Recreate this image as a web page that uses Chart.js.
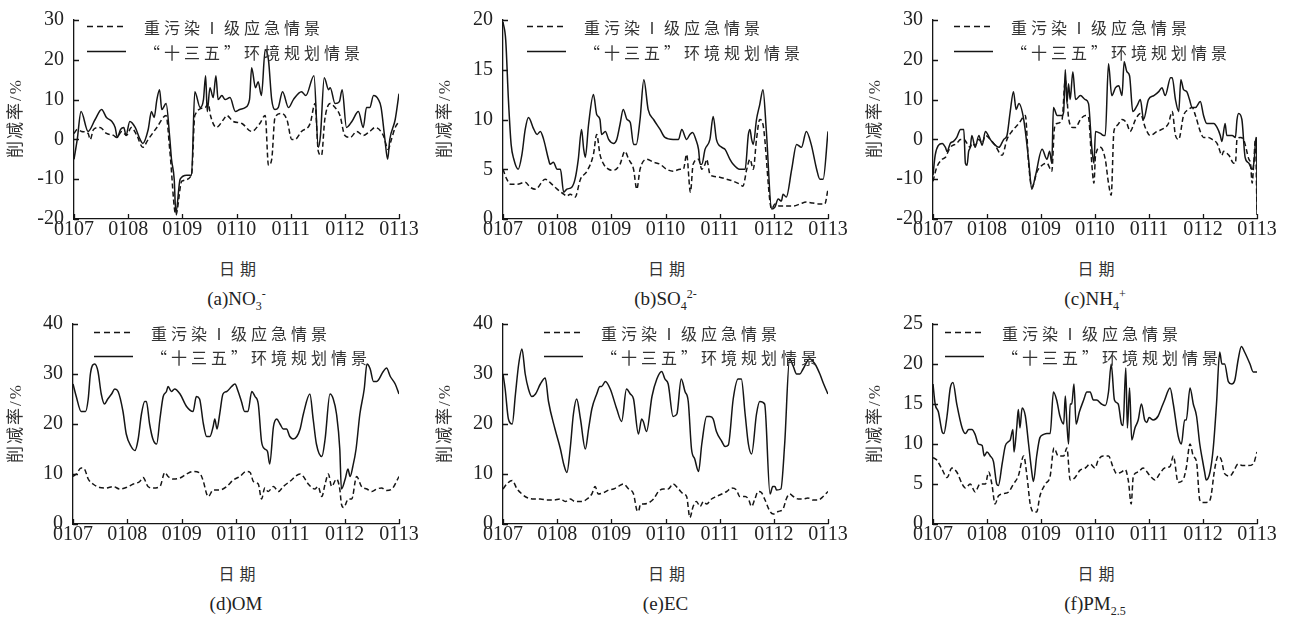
<!DOCTYPE html>
<html>
<head>
<meta charset="utf-8">
<script src="https://cdn.jsdelivr.net/npm/chart.js@4.4.1/dist/chart.umd.min.js"></script>
<style>
  body { margin: 0; background: #fff; width: 1292px; height: 619px; position: relative; overflow: hidden;
         font-family: "Liberation Serif", "Noto Sans CJK SC", serif; color: #222; }
  canvas { position: absolute; }
  .ytitle { position: absolute; width: 200px; height: 20px; line-height: 20px; text-align: center;
            font-size: 17px; letter-spacing: 2px; color: #333; transform: rotate(-90deg); }
  .xtitle { position: absolute; width: 200px; height: 20px; line-height: 20px; text-align: center;
            font-size: 16px; letter-spacing: 5px; text-indent: 5px; color: #333; }
  .caption { position: absolute; width: 200px; height: 24px; line-height: 24px; text-align: center;
             font-size: 19px; color: #222; }
  .caption sub, .caption sup { font-size: 12px; line-height: 0; }
</style>
</head>
<body>
<script>
// x = days after 01-07 00:00, y = reduction rate (%)
const dateLabels = ['0107', '0108', '0109', '0110', '0111', '0112', '0113'];
const seriesNames = ['重污染Ⅰ级应急情景', '“十三五”环境规划情景'];

const no3Emergency = [[0,1.5],[0.06,2.5],[0.14,2],[0.26,1.5],[0.3,0],[0.36,2.5],[0.48,3],[0.6,1.5],[0.73,1],[0.79,0.5],[0.88,2],[0.97,1],[1.06,3],[1.16,1],[1.27,-2],[1.37,0],[1.53,3],[1.7,6],[1.77,-3],[1.88,-19],[1.99,-10.5],[2.17,-9],[2.23,6],[2.42,8],[2.48,9],[2.52,6],[2.63,3],[2.76,5],[2.82,6],[2.94,4.5],[3.1,4],[3.28,2],[3.43,4],[3.53,6],[3.59,-6.5],[3.65,-5],[3.71,5.5],[3.83,6.5],[3.93,5],[4.02,0],[4.08,0],[4.2,2],[4.36,4],[4.45,9],[4.51,-3],[4.57,-4],[4.63,5],[4.73,9],[4.82,8],[4.91,6],[5,1],[5.1,0.5],[5.22,2],[5.34,1],[5.46,2],[5.56,3],[5.71,1],[5.8,-2.5],[5.86,0],[5.93,3],[6,4.5]];
const no3Plan = [[0,-5],[0.06,0],[0.13,7],[0.26,2],[0.39,5],[0.51,7.5],[0.6,5.5],[0.7,4.5],[0.76,3],[0.8,0.5],[0.86,2.5],[0.92,3],[0.96,1],[1.03,4.5],[1.13,3],[1.22,0],[1.27,-1],[1.37,2.5],[1.43,7],[1.48,5.5],[1.53,10],[1.58,12.5],[1.62,7.5],[1.7,9],[1.77,0],[1.8,-5],[1.85,-10],[1.88,-18.5],[1.96,-10],[2.08,-9],[2.17,-9],[2.23,12],[2.33,8],[2.39,10],[2.43,16],[2.46,7],[2.51,13],[2.57,10.5],[2.62,16],[2.66,10],[2.73,11],[2.79,10],[2.88,10.5],[2.98,7],[3.06,7.5],[3.16,8],[3.24,10],[3.28,18],[3.35,13],[3.4,14.5],[3.46,11],[3.53,22.5],[3.59,20],[3.65,10],[3.71,7.5],[3.77,8],[3.85,12],[3.96,8],[4.05,10],[4.2,12],[4.28,11],[4.43,16],[4.51,-2],[4.55,1],[4.62,15.5],[4.7,12.5],[4.73,13],[4.82,9],[4.9,9.5],[4.95,12.5],[5.03,3],[5.13,4.5],[5.25,7],[5.34,3],[5.4,8],[5.46,8],[5.53,11],[5.62,10],[5.67,8],[5.74,0],[5.79,-5],[5.83,0],[5.93,5],[6,11.5]];

const so4Emergency = [[0,5],[0.07,4],[0.14,3.5],[0.26,3.5],[0.41,3.7],[0.5,3.2],[0.6,3],[0.78,4],[0.9,3.5],[1,3],[1.12,2.5],[1.18,2.3],[1.24,2.5],[1.33,2.2],[1.43,4],[1.55,4.8],[1.67,6.5],[1.73,8.5],[1.79,6.5],[1.86,5.5],[1.95,5],[2.04,4.9],[2.16,5.5],[2.25,6.8],[2.32,6],[2.41,5],[2.47,3],[2.53,5],[2.65,6],[2.78,5.7],[2.9,5.5],[3.02,5],[3.14,4.8],[3.27,5],[3.33,5],[3.39,6.5],[3.46,2.7],[3.51,5.5],[3.61,6],[3.67,5],[3.73,5.5],[3.76,6],[3.82,4.5],[3.88,4.3],[4,4.2],[4.13,4],[4.25,3.8],[4.37,3.5],[4.43,3.3],[4.5,5],[4.56,6],[4.62,5],[4.68,8],[4.74,10],[4.8,9.5],[4.96,1],[5.02,1.5],[5.11,1.3],[5.23,1.3],[5.36,1.3],[5.48,1.5],[5.6,1.7],[5.72,1.6],[5.85,1.5],[5.94,1.5],[6,3]];
const so4Plan = [[0,19.8],[0.05,18],[0.1,12],[0.15,7.5],[0.2,6],[0.28,5],[0.35,6.5],[0.41,9],[0.47,10.2],[0.57,9],[0.63,8.5],[0.69,8.8],[0.75,8],[0.84,6],[0.87,5.5],[0.93,5.7],[1,5],[1.06,5],[1.12,2.7],[1.18,3],[1.27,3.2],[1.33,4],[1.39,6],[1.45,9],[1.49,7],[1.52,6.2],[1.58,9.5],[1.67,12.5],[1.73,10.5],[1.79,10],[1.82,8.5],[1.89,8.8],[1.95,8],[2.04,7.6],[2.1,8],[2.16,9.5],[2.22,11],[2.29,10],[2.35,9.7],[2.41,7.5],[2.46,7.5],[2.53,10],[2.6,14],[2.68,11],[2.78,10],[2.9,9],[2.99,8.2],[3.14,8],[3.24,8],[3.3,9],[3.39,8],[3.45,8.5],[3.5,8.7],[3.56,8],[3.61,7],[3.64,5.5],[3.67,5.5],[3.73,7],[3.82,8],[3.88,10.3],[3.94,8],[4.04,7.2],[4.1,7],[4.19,6],[4.25,5.5],[4.37,5],[4.47,5],[4.53,8.5],[4.56,9],[4.59,8],[4.62,7.5],[4.68,10],[4.74,11.5],[4.8,13],[4.86,9],[4.96,1],[5.02,1.2],[5.08,2],[5.14,1.8],[5.17,2.5],[5.23,2.2],[5.33,5],[5.42,7.5],[5.51,7.2],[5.6,8.8],[5.69,7.5],[5.79,5],[5.85,4],[5.91,4],[6,8.8]];

const nh4Emergency = [[0,-10.5],[0.07,-7],[0.17,-5],[0.23,-4.5],[0.32,-2],[0.44,-1],[0.51,0],[0.57,0],[0.63,-1],[0.69,-2],[0.72,-1],[0.78,-1.5],[0.85,0],[0.91,-1],[0.97,1],[1.06,0],[1.15,-1.5],[1.28,-4],[1.37,0],[1.46,2],[1.59,4],[1.71,6],[1.77,-6],[1.83,-12],[1.93,-8],[2.02,-6.5],[2.11,-6],[2.2,-8],[2.25,3],[2.3,4],[2.39,5],[2.45,15],[2.51,5.5],[2.59,3],[2.64,3],[2.73,5],[2.82,6],[2.88,5.5],[2.94,-6],[2.98,-11],[3.01,-4],[3.1,-2],[3.19,-5],[3.25,-11],[3.3,-14],[3.35,2],[3.41,3.5],[3.5,5],[3.59,4],[3.65,2],[3.75,5],[3.84,6.5],[3.93,3],[4.02,1],[4.15,2],[4.3,3],[4.36,4],[4.43,7],[4.49,1],[4.55,0],[4.64,6],[4.73,7.5],[4.8,8],[4.86,6],[4.95,2],[5.01,0.5],[5.1,0.5],[5.17,0],[5.26,-1],[5.29,-2],[5.35,-4],[5.38,-3],[5.48,-4],[5.57,-6],[5.6,-6],[5.63,0],[5.69,0.5],[5.75,0],[5.85,-5],[5.88,-6],[5.91,-11],[5.94,-6],[5.97,0],[6,-18]];
const nh4Plan = [[0,-9],[0.04,-4],[0.1,-1.5],[0.17,-1],[0.23,-2],[0.26,-3],[0.32,-1],[0.38,-0.5],[0.44,0.5],[0.51,2.5],[0.57,2.5],[0.6,-6],[0.63,-6.5],[0.66,-3],[0.69,-2],[0.72,1],[0.78,-2],[0.85,1],[0.91,-1.5],[0.97,2],[1.06,0],[1.12,-1],[1.22,-2],[1.31,0],[1.37,1],[1.43,7],[1.49,12],[1.54,7.5],[1.59,9],[1.68,5],[1.77,-5],[1.83,-12.5],[1.9,-9],[2.02,-2.5],[2.11,-5],[2.16,-3],[2.2,-6],[2.23,8],[2.3,6],[2.39,6],[2.42,7],[2.45,17.5],[2.48,9],[2.51,14],[2.54,10],[2.59,17],[2.64,10],[2.73,11],[2.82,10],[2.88,9],[2.94,-2],[2.98,-6],[3.01,2],[3.1,1.5],[3.16,1],[3.19,1],[3.25,19],[3.31,11],[3.38,13],[3.44,13.5],[3.5,11],[3.54,19.5],[3.59,17],[3.64,16],[3.7,7],[3.78,8.5],[3.84,10],[3.9,5],[3.99,10],[4.09,11],[4.18,12],[4.24,13],[4.3,11],[4.4,15.5],[4.43,15.5],[4.49,10],[4.55,7],[4.59,15],[4.64,12.5],[4.7,12],[4.75,10],[4.8,8],[4.86,8],[4.95,9.5],[5.01,6],[5.07,4],[5.2,4],[5.26,3],[5.32,1],[5.35,-0.5],[5.41,4],[5.44,1],[5.54,1],[5.6,0.5],[5.63,5],[5.66,6.5],[5.72,5],[5.78,-4.5],[5.85,-6],[5.91,-7.5],[5.95,-5],[5.98,0.5],[5.995,0],[6,-19]];

const omEmergency = [[0,9.5],[0.06,10],[0.15,11.2],[0.21,11],[0.28,9],[0.37,8],[0.49,7.3],[0.61,7.2],[0.74,7.5],[0.86,7],[0.98,7.3],[1.11,8],[1.23,8.5],[1.29,9.3],[1.38,7.5],[1.47,7.2],[1.6,7.5],[1.69,10.3],[1.75,9.5],[1.84,9],[1.97,9.2],[2.09,10],[2.21,10.5],[2.33,10.2],[2.4,8.5],[2.46,6],[2.49,5.5],[2.58,6.8],[2.7,6.8],[2.83,7.5],[2.95,8.8],[3.07,9.5],[3.19,10.5],[3.26,10.3],[3.32,8.5],[3.41,8],[3.47,5],[3.53,7.2],[3.59,6.5],[3.69,7.5],[3.78,6.5],[3.87,7.5],[3.99,8.5],[4.18,10],[4.24,9.5],[4.33,8],[4.45,7],[4.51,7.5],[4.58,5.5],[4.64,8],[4.7,10],[4.76,7.5],[4.85,9],[4.91,7],[4.94,4],[4.98,3.3],[5.07,5],[5.13,5],[5.22,9.5],[5.31,7.5],[5.41,7],[5.5,6.5],[5.59,7],[5.68,7.2],[5.77,6.7],[5.87,7],[6,9.5]];
const omPlan = [[0,28],[0.06,25.5],[0.15,22.5],[0.23,22.5],[0.28,25],[0.32,30],[0.4,32],[0.46,30.5],[0.52,26],[0.58,24],[0.64,25],[0.71,26],[0.77,27],[0.83,26.5],[0.92,22.5],[0.98,18],[1.07,15.5],[1.14,14.7],[1.2,17],[1.26,22],[1.32,24.5],[1.35,24.5],[1.41,20],[1.47,17],[1.54,16],[1.6,21],[1.66,25.5],[1.72,26.5],[1.75,27.5],[1.81,26.5],[1.87,27],[1.97,26],[2.09,23.5],[2.21,22.5],[2.27,25.5],[2.33,25],[2.4,20],[2.46,17.5],[2.52,17.5],[2.58,19.5],[2.61,21],[2.65,19],[2.7,22],[2.76,26],[2.83,26.5],[2.92,27.5],[2.98,28],[3.04,26.5],[3.1,24.5],[3.16,22.5],[3.22,22.5],[3.29,26.5],[3.35,25.5],[3.41,24],[3.47,16.5],[3.53,15],[3.58,14.5],[3.62,12],[3.69,19.5],[3.75,21],[3.81,20],[3.87,19],[3.93,19],[3.99,17.5],[4.05,17],[4.12,17.5],[4.18,19],[4.24,22],[4.36,26],[4.42,21],[4.48,16],[4.58,13.5],[4.64,17],[4.73,26],[4.79,25],[4.85,22],[4.91,15],[4.94,7],[5.01,9],[5.06,11],[5.1,9.5],[5.15,11.5],[5.21,15],[5.28,22],[5.36,27],[5.41,32],[5.47,31],[5.53,28.5],[5.59,28.5],[5.71,30.5],[5.77,31.2],[5.84,29.5],[5.93,28],[6,26]];

const ecEmergency = [[0,7],[0.07,8],[0.17,8.7],[0.26,7],[0.35,6],[0.44,5.3],[0.57,5],[0.69,5],[0.81,4.8],[0.93,4.8],[1.06,5],[1.15,4.5],[1.24,5],[1.33,4.5],[1.46,4.5],[1.55,5],[1.64,6],[1.7,7.5],[1.76,6],[1.86,6.3],[1.95,6.8],[2.04,7],[2.13,7.5],[2.22,8],[2.32,7],[2.41,6],[2.47,2.8],[2.5,2.5],[2.54,4],[2.59,4],[2.68,4.2],[2.78,5],[2.87,6.5],[2.96,7],[3.05,7],[3.14,8],[3.24,7],[3.33,6],[3.39,5.5],[3.45,1.3],[3.51,3.5],[3.57,4.5],[3.64,3.5],[3.7,4.5],[3.76,4],[3.85,5],[3.94,5.5],[4.04,6],[4.13,6.5],[4.22,7.2],[4.31,6.8],[4.37,5.5],[4.47,5.5],[4.53,5],[4.59,3.5],[4.65,5],[4.71,6.5],[4.77,6.3],[4.83,5],[4.93,2.5],[4.99,2],[5.08,2.5],[5.17,3],[5.23,5],[5.29,6],[5.36,5.5],[5.45,5],[5.54,5],[5.63,5.2],[5.72,4.8],[5.82,4.8],[5.91,5.5],[6,6.5]];
const ecPlan = [[0,30],[0.04,27],[0.1,21],[0.17,20],[0.23,26],[0.29,32],[0.35,35],[0.41,30],[0.47,27],[0.53,25.5],[0.6,26],[0.69,28],[0.78,29.2],[0.84,24.5],[0.96,19],[1.06,15],[1.12,12],[1.18,10.3],[1.24,15],[1.3,22],[1.36,25],[1.43,21],[1.52,15],[1.58,19],[1.64,23],[1.73,26],[1.79,27.5],[1.82,27.5],[1.89,28.5],[1.98,27],[2.1,23],[2.19,20.5],[2.28,27],[2.35,26],[2.41,25],[2.5,18],[2.56,21],[2.59,20.5],[2.65,18.5],[2.75,25.5],[2.84,29],[2.93,30.5],[2.99,29],[3.05,28],[3.14,21.5],[3.21,22],[3.29,29],[3.36,26.5],[3.42,24.5],[3.48,15],[3.54,13],[3.61,10.5],[3.67,16],[3.76,21.5],[3.82,21.5],[3.88,21],[3.94,18.5],[4.04,16.5],[4.1,15.5],[4.16,15.8],[4.25,25],[4.34,29],[4.4,29],[4.47,22],[4.53,16],[4.59,14],[4.68,22],[4.74,24.5],[4.83,24],[4.93,6],[4.98,7.5],[5.02,7.5],[5.05,6.8],[5.13,7],[5.2,16],[5.29,33],[5.36,31.5],[5.42,30],[5.48,30],[5.54,31],[5.66,33],[5.76,32],[5.85,30],[5.92,28],[6,26]];

const pmEmergency = [[0,8.3],[0.07,8],[0.17,6.8],[0.26,5.8],[0.35,7],[0.44,6.5],[0.54,5],[0.6,4.5],[0.69,5],[0.78,4],[0.87,5],[0.97,5],[1.03,6.5],[1.09,5],[1.15,2.5],[1.21,3.5],[1.31,3.8],[1.4,4],[1.49,5],[1.58,6],[1.68,8.5],[1.74,6],[1.8,2.5],[1.86,1.5],[1.92,1.5],[1.98,3.5],[2.08,5],[2.17,6],[2.24,9.5],[2.32,8.5],[2.42,8.5],[2.48,9.5],[2.54,5.5],[2.63,5.8],[2.72,6.7],[2.82,7],[2.91,7.5],[3,7],[3.06,8],[3.15,8.5],[3.25,8.5],[3.34,7],[3.4,6.3],[3.49,6.5],[3.56,6.8],[3.62,5.3],[3.67,2.5],[3.71,6],[3.8,6.5],[3.89,7],[4.02,6],[4.11,5.5],[4.2,6.3],[4.29,7],[4.39,7.2],[4.45,8.5],[4.54,5.2],[4.63,5.5],[4.69,7],[4.76,10],[4.82,8.5],[4.88,7.8],[4.94,3],[5,2.7],[5.06,2.7],[5.13,3],[5.22,7],[5.28,8.5],[5.34,8],[5.4,6.3],[5.5,6],[5.56,6.5],[5.65,7.5],[5.74,7.3],[5.83,7.3],[5.93,7.5],[6,9]];
const pmPlan = [[0,17.5],[0.04,15],[0.1,14],[0.17,11.5],[0.2,11.3],[0.26,13.5],[0.32,17],[0.37,17.7],[0.44,15],[0.54,12],[0.6,11.3],[0.66,11.8],[0.72,11.8],[0.78,11.2],[0.84,10],[0.91,9.8],[0.95,8.5],[1,9],[1.06,8.5],[1.12,7.8],[1.18,5],[1.21,4.8],[1.28,7.5],[1.34,9.8],[1.4,10.3],[1.43,10.5],[1.48,11.8],[1.5,9],[1.55,12],[1.58,14.3],[1.61,12],[1.65,14.5],[1.71,13.5],[1.77,10],[1.82,7],[1.86,5.3],[1.92,8.5],[1.98,10.8],[2.05,11.2],[2.11,11.3],[2.17,11.3],[2.23,16.5],[2.29,15.5],[2.35,13.5],[2.42,12.5],[2.45,16],[2.48,12.5],[2.51,10],[2.54,15],[2.57,15],[2.61,17.5],[2.65,12.5],[2.71,14],[2.79,15.5],[2.85,16.5],[2.91,16.5],[2.97,15.5],[3.03,15.5],[3.12,15],[3.19,14.8],[3.25,16.5],[3.3,20],[3.36,15.5],[3.43,15],[3.49,12.5],[3.52,12.3],[3.57,19.5],[3.6,12],[3.64,17],[3.68,10.5],[3.74,12],[3.8,13],[3.86,15],[3.92,13],[3.96,12.7],[4,13.3],[4.08,13],[4.17,13.5],[4.23,14.5],[4.29,15.5],[4.39,17],[4.45,15],[4.54,11],[4.6,10],[4.66,13],[4.69,13],[4.76,17],[4.82,15],[4.88,13.5],[4.94,10],[4.99,8],[5.03,6.5],[5.06,5.5],[5.13,6.5],[5.19,9.5],[5.25,15],[5.31,21.5],[5.35,20],[5.4,20],[5.47,17.8],[5.53,17.5],[5.59,18],[5.65,20.5],[5.71,22.2],[5.77,21.5],[5.87,20],[5.93,19],[6,19]];

const panels = [
  { emergency: no3Emergency, plan: no3Plan, min: -20, max: 30, step: 10, caption: '(a)NO<sub>3</sub><sup>-</sup>',
    L: 0, ax0: 74, ax1: 399, ay0: 17, ay1: 219, legX: 13, rows: [6.5, 31.5], yTitleX: 16 },
  { emergency: so4Emergency, plan: so4Plan, min: 0, max: 20, step: 5, caption: '(b)SO<sub>4</sub><sup>2-</sup>',
    L: 430, ax0: 503, ax1: 828, ay0: 17, ay1: 219, legX: 24, rows: [6.5, 31.5], yTitleX: 445 },
  { emergency: nh4Emergency, plan: nh4Plan, min: -20, max: 30, step: 10, caption: '(c)NH<sub>4</sub><sup>+</sup>',
    L: 860, ax0: 933, ax1: 1257, ay0: 17, ay1: 219, legX: 21, rows: [6.5, 31.5], yTitleX: 875 },
  { emergency: omEmergency, plan: omPlan, min: 0, max: 40, step: 10, caption: '(d)OM',
    L: 0, ax0: 73, ax1: 399, ay0: 321, ay1: 524, legX: 21, rows: [8.5, 32.5], yTitleX: 16 },
  { emergency: ecEmergency, plan: ecPlan, min: 0, max: 40, step: 10, caption: '(e)EC',
    L: 430, ax0: 503, ax1: 828, ay0: 321, ay1: 524, legX: 41, rows: [8.5, 32.5], yTitleX: 445 },
  { emergency: pmEmergency, plan: pmPlan, min: 0, max: 25, step: 5, caption: '(f)PM<sub>2.5</sub>',
    L: 860, ax0: 933, ax1: 1257, ay0: 321, ay1: 524, legX: 12, rows: [8.5, 32.5], yTitleX: 875 }
];

const ink = '#151515';
const tickFont = { family: '"Liberation Serif", "Times New Roman", serif', size: 20, lineHeight: 1 };

// ticks point into the plot, as in the figure
const innerTicks = {
  id: 'innerTicks',
  afterDraw(chart) {
    const { ctx, chartArea: a, scales: { x, y } } = chart;
    ctx.save();
    ctx.strokeStyle = ink;
    ctx.lineWidth = 1.3;
    ctx.beginPath();
    x.ticks.forEach(t => {
      const px = Math.round(x.getPixelForValue(t.value)) + 0.5;
      ctx.moveTo(px, a.bottom);
      ctx.lineTo(px, a.bottom - 5);
    });
    y.ticks.forEach(t => {
      const py = Math.round(y.getPixelForValue(t.value)) + 0.5;
      ctx.moveTo(a.left, py);
      ctx.lineTo(a.left + 5, py);
    });
    ctx.stroke();
    ctx.restore();
  }
};

// legend drawn inside the plot with letter spacing
const plotLegend = {
  id: 'plotLegend',
  afterDraw(chart, args, opts) {
    const { ctx, chartArea: a } = chart;
    ctx.save();
    chart.data.datasets.forEach((ds, i) => {
      const y = a.top + opts.rows[i];
      const x0 = a.left + opts.x;
      ctx.strokeStyle = ink;
      ctx.lineWidth = 1.5;
      ctx.setLineDash(i === 0 ? [6, 4] : []);
      ctx.beginPath();
      ctx.moveTo(x0, y);
      ctx.lineTo(x0 + 39, y);
      ctx.stroke();
      ctx.setLineDash([]);
      ctx.font = '16px "Noto Sans CJK SC"';
      ctx.letterSpacing = '4px';
      ctx.fillStyle = '#333';
      ctx.textBaseline = 'middle';
      ctx.textAlign = 'left';
      ctx.fillText(ds.label, x0 + 57, y + 1.5);
    });
    ctx.restore();
  }
};

function addText(cls, html, cx, cy, h) {
  const d = document.createElement('div');
  d.className = cls;
  d.innerHTML = html;
  d.style.left = (cx - 100) + 'px';
  d.style.top = (cy - h / 2) + 'px';
  document.body.appendChild(d);
}

panels.forEach(p => {
  const padTop = 17, padRight = 25, xAxisH = 31;
  const canvas = document.createElement('canvas');
  const top = p.ay0 - padTop;
  canvas.width = p.ax1 + padRight - p.L;
  canvas.height = p.ay1 + xAxisH - top;
  canvas.style.left = p.L + 'px';
  canvas.style.top = top + 'px';
  document.body.appendChild(canvas);

  const lineStyle = { borderColor: ink, borderWidth: 1.5, pointRadius: 0, cubicInterpolationMode: 'monotone', fill: false };

  new Chart(canvas.getContext('2d'), {
    type: 'line',
    data: {
      datasets: [
        { ...lineStyle, label: seriesNames[0], data: p.emergency.map(([x, y]) => ({ x, y })), borderDash: [5, 3] },
        { ...lineStyle, label: seriesNames[1], data: p.plan.map(([x, y]) => ({ x, y })) }
      ]
    },
    options: {
      responsive: false,
      animation: false,
      devicePixelRatio: 1,
      layout: { padding: { top: padTop, right: padRight, left: 0, bottom: 0 } },
      scales: {
        x: {
          type: 'linear', min: 0, max: 6,
          grid: { display: false, drawTicks: false },
          border: { display: true, color: ink, width: 1.3 },
          ticks: { stepSize: 1, padding: 1, color: '#222', maxRotation: 0, font: tickFont,
                   callback: v => dateLabels[v] },
          afterFit: s => { s.height = xAxisH; }
        },
        y: {
          min: p.min, max: p.max,
          grid: { display: false, drawTicks: false },
          border: { display: true, color: ink, width: 1.3 },
          ticks: { stepSize: p.step, padding: 10, color: '#222', font: tickFont },
          afterFit: s => { s.width = p.ax0 - p.L; }
        }
      },
      plugins: {
        legend: { display: false },
        tooltip: { enabled: false },
        plotLegend: { x: p.legX, rows: p.rows }
      }
    },
    plugins: [innerTicks, plotLegend]
  });

  const cx = (p.ax0 + p.ax1) / 2;
  addText('ytitle', '削减率/%', p.yTitleX, (p.ay0 + p.ay1) / 2, 20);
  addText('xtitle', '日期', cx + 1, p.ay1 + 51, 20);
  addText('caption', p.caption, cx, p.ay1 + 80, 24);
});
</script>
</body>
</html>
